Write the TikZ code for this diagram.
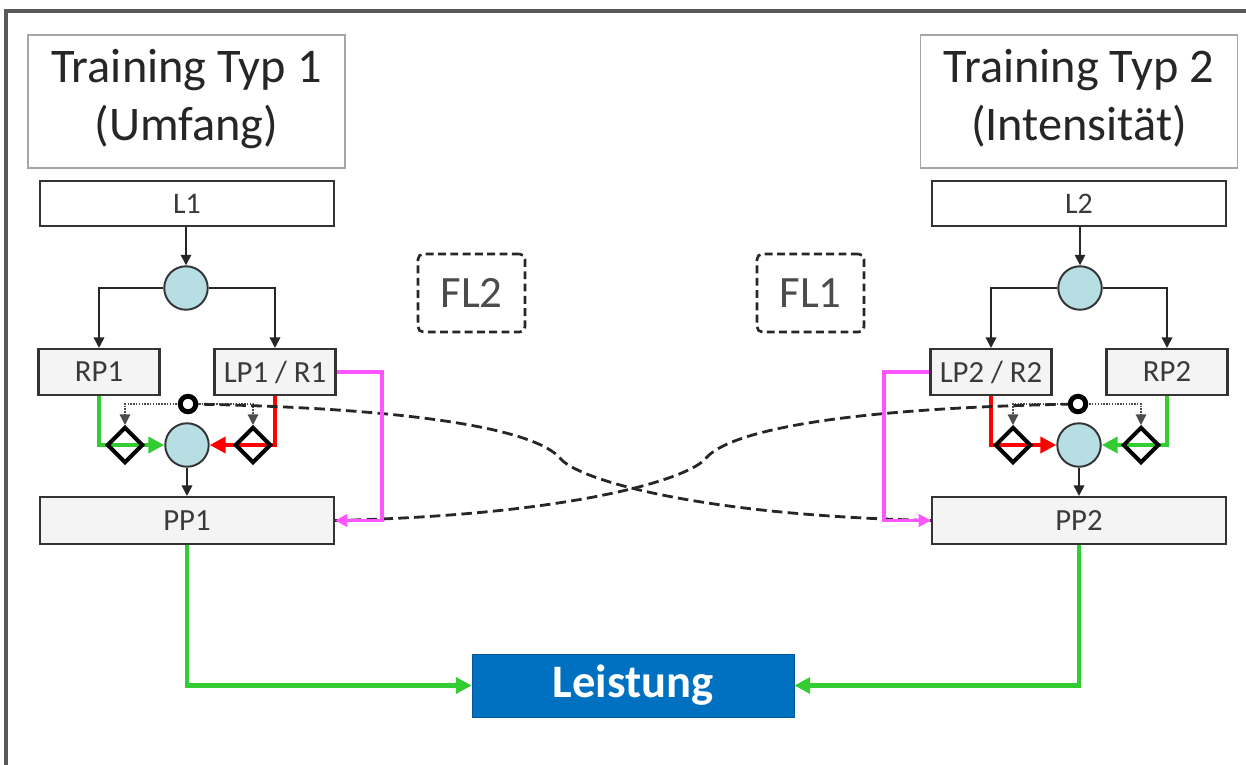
\documentclass[tikz,border=0pt]{standalone}
\usepackage{fontspec}
\setmainfont{Carlito}
\usetikzlibrary{arrows.meta,shapes.geometric}
\definecolor{cfill}{HTML}{B7DEE3}
\definecolor{gfill}{HTML}{F4F4F4}
\definecolor{lgreen}{HTML}{33CC33}
\definecolor{mag}{HTML}{FF55FF}
\definecolor{lblue}{HTML}{0070C0}
\definecolor{txt}{HTML}{3A3A3A}
\tikzset{
  titlebox/.style={draw=black!35,line width=1pt,fill=white,minimum width=6.34cm,minimum height=2.66cm,align=center,font=\fontsize{27.5}{33}\selectfont,text=black!85,inner sep=0pt},
  lbox/.style={draw=black!80,line width=1.2pt,fill=white,minimum width=5.88cm,minimum height=0.9cm,font=\fontsize{17}{20}\selectfont,text=txt,inner sep=0pt},
  sbox/.style={draw=black!80,line width=1.2pt,fill=gfill,minimum width=2.42cm,minimum height=0.92cm,font=\fontsize{17.5}{20}\selectfont,text=txt,inner sep=0pt},
  pbox/.style={draw=black!80,line width=1.2pt,fill=gfill,minimum width=5.88cm,minimum height=0.94cm,font=\fontsize{17.5}{20}\selectfont,text=txt,inner sep=0pt},
  ball/.style={circle,draw=black!80,line width=1.1pt,fill=cfill,minimum size=0.87cm,inner sep=0pt},
  dia/.style={diamond,draw=black,line width=2.3pt,minimum size=0.72cm,inner sep=0pt},
  ring/.style={circle,draw=black,line width=2.8pt,fill=white,minimum size=0.31cm,inner sep=0pt},
  flbox/.style={draw=black!85,line width=1.5pt,dash pattern=on 4.5pt off 2.5pt,rounded corners=3pt,minimum width=2.14cm,minimum height=1.56cm,font=\fontsize{25.5}{30}\selectfont,text=black!70,inner sep=0pt},
  conn/.style={draw=black!85,line width=1pt,-{Triangle[length=6pt,width=6pt]}},
  dotconn/.style={draw=black!70,line width=0.7pt,dash pattern=on 0.8pt off 0.8pt,-{Triangle[length=6pt,width=6pt]}},
  gline/.style={draw=lgreen,line width=2.4pt,-{Triangle[length=9pt,width=9pt]}},
  rline/.style={draw=red,line width=2.4pt,-{Triangle[length=9pt,width=9pt]}},
  mline/.style={draw=mag,line width=2.2pt,-{Triangle[length=7pt,width=7pt]}},
  fdash/.style={draw=black!85,line width=1.6pt,dash pattern=on 6pt off 3pt},
}
\begin{document}
\begin{tikzpicture}[x=0.02cm,y=-0.02cm]
\useasboundingbox (0,0) rectangle (1246,764);
\begin{scope}
\clip (0,0) rectangle (1246,764);
\draw[black!65,line width=1.8pt] (6,800) -- (6,11) -- (1300,11);
\end{scope}

% titles
\node[titlebox,text depth=0.25cm] (T1) at (186.5,101.5) {Training Typ 1\\(Umfang)};
\node[titlebox,text depth=0.25cm] (T2) at (1079,101.5) {Training Typ 2\\(Intensität)};

% left side
\node[lbox] (L1) at (187,203.5) {L1};
\node[ball] (C1) at (186,288) {};
\node[sbox] (RP1) at (99,372) {RP1};
\node[sbox] (LP1) at (275,372) {LP1 / R1};
\node[ball] (D1) at (187,445) {};
\node[pbox] (PP1) at (187,520.5) {PP1};

% right side
\node[lbox] (L2) at (1079,203.5) {L2};
\node[ball] (C2) at (1080,288) {};
\node[sbox] (RP2) at (1167,372) {RP2};
\node[sbox] (LP2) at (991,372) {LP2 / R2};
\node[ball] (D2) at (1079,445) {};
\node[pbox] (PP2) at (1079,520.5) {PP2};

% FL boxes
\node[flbox] (FL2) at (471.5,293) {FL2};
\node[flbox] (FL1) at (810.5,293) {FL1};

% Leistung
\node[fill=lblue,draw=lblue!80!black,line width=0.4pt,minimum width=6.44cm,minimum height=1.26cm,text=white,font=\bfseries\fontsize{26.5}{30}\selectfont,inner sep=0pt] (LS) at (633,685.5) {Leistung};

% black connectors
\draw[conn] (L1.south -| C1.north) -- (C1.north);
\draw[conn] (C1.west) -| (RP1.north);
\draw[conn] (C1.east) -| (LP1.north);
\draw[conn] (D1.south) -- (PP1.north -| D1.south);
\draw[conn] (L2.south -| C2.north) -- (C2.north);
\draw[conn] (C2.east) -| (RP2.north);
\draw[conn] (C2.west) -| (LP2.north);
\draw[conn] (D2.south) -- (PP2.north -| D2.south);

% green / red into lower balls
\draw[gline] (RP1.south) |- (D1.west);
\draw[rline] (LP1.south) |- (D1.east);
\draw[gline] (RP2.south) |- (D2.east);
\draw[rline] (LP2.south) |- (D2.west);

% diamonds
\node[dia] (GA1) at (125,445) {};
\node[dia] (RB1) at (253,445) {};
\node[dia] (GA2) at (1141,445) {};
\node[dia] (RB2) at (1013,445) {};

% rings and dotted arrows
\coordinate (R1) at (188,404);
\coordinate (R2) at (1078,404);
\draw[dotconn] (R1) -| (GA1.north);
\draw[dotconn] (R1) -| (RB1.north);
\draw[dotconn] (R2) -| (GA2.north);
\draw[dotconn] (R2) -| (RB2.north);

% dashed crossing curves
\draw[fdash] (R1) .. controls (420,408) and (535,430) .. (560,458)
  .. controls (575,478) and (690,515) .. (PP2.west);
\draw[fdash] (PP1.east) .. controls (576,515) and (691,478) .. (706,458)
  .. controls (731,430) and (846,408) .. (R2);
\node[ring] (RG1) at (R1) {};
\node[ring] (RG2) at (R2) {};

% magenta feedback
\coordinate (M1) at (382,372);
\coordinate (M2) at (884,372);
\draw[mline] (LP1.east) -- (M1) |- (PP1.east);
\draw[mline] (LP2.west) -- (M2) |- (PP2.west);

% green to Leistung
\draw[gline] (PP1.south) |- (LS.west);
\draw[gline] (PP2.south) |- (LS.east);
\end{tikzpicture}
\end{document}
